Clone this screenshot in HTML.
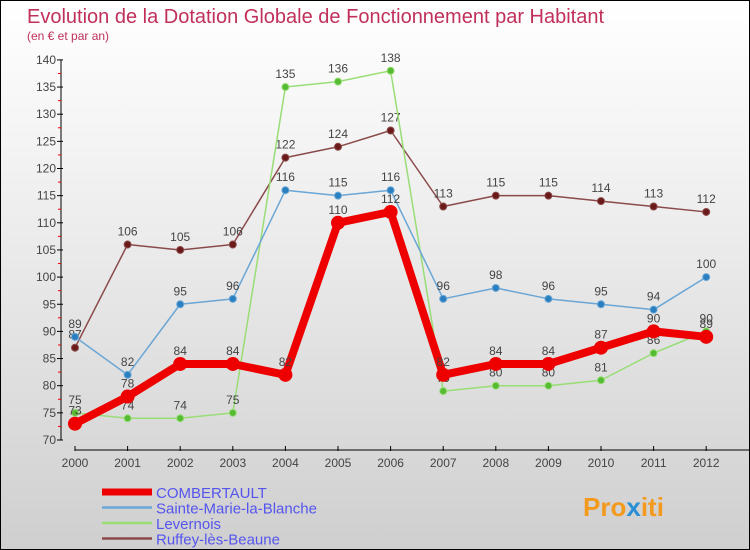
<!DOCTYPE html>
<html><head><meta charset="utf-8"><style>
body{margin:0}
#c{width:748px;height:548px;border:1px solid #000;background:linear-gradient(#fff,#f2f2f2 30%,#cfcfcf);position:relative;font-family:"Liberation Sans",sans-serif;overflow:hidden}
</style></head><body>
<div id="c">
<svg id="s" width="748" height="548" xmlns="http://www.w3.org/2000/svg">
<text x="26" y="22" font-size="20" fill="#c0305a">Evolution de la Dotation Globale de Fonctionnement par Habitant</text>
<text x="26" y="39" font-size="12" fill="#c0305a">(en € et par an)</text>
<text x="582" y="515" font-size="26" font-weight="bold" fill="#f39a1e">Pro<tspan fill="#2a8fd4">x</tspan>iti</text>
</svg></div>
<script>
const years=[2000,2001,2002,2003,2004,2005,2006,2007,2008,2009,2010,2011,2012];
const yTicks=[70,75,80,85,90,95,100,105,110,115,120,125,130,135,140];
const seriesNames=["COMBERTAULT","Sainte-Marie-la-Blanche","Levernois","Ruffey-lès-Beaune"];
const combertault=[73,78,84,84,82,110,112,82,84,84,87,90,89];
const sainteMarie=[89,82,95,96,116,115,116,96,98,96,95,94,100];
const levernois=[75,74,74,75,135,136,138,79,80,80,81,86,90];
const ruffey=[87,106,105,106,122,124,127,113,115,115,114,113,112];
const NS="http://www.w3.org/2000/svg",s=document.getElementById('s');
const X=i=>74+i*52.6, Y=v=>439-(v-70)*5.43;
function mk(t,a,p){const e=document.createElementNS(NS,t);for(const k in a)e.setAttribute(k,a[k]);(p||s).appendChild(e);return e;}
let ax=mk('line',{x1:60,y1:Y(140),x2:60,y2:Y(70),stroke:'#000'});

let xx=mk('line',{x1:74,y1:449,x2:748,y2:449,stroke:'#000'});

yTicks.forEach(v=>{mk('line',{x1:56,y1:Y(v),x2:62,y2:Y(v),stroke:'#000'});
 if(v<140)mk('line',{x1:57,y1:Y(v+2.5),x2:60,y2:Y(v+2.5),stroke:'#e00'});
 const t=mk('text',{x:55,y:Y(v)+4,'font-size':12,fill:'#444','text-anchor':'end'});t.textContent=v;
 });
years.forEach((y,i)=>{mk('line',{x1:X(i),y1:445,x2:X(i),y2:450,stroke:'#000'});
 const t=mk('text',{x:X(i),y:466,'font-size':12,fill:'#444','text-anchor':'middle'});t.textContent=y;
 });
const styles=[{c:'#ee0000',w:8,r:7,d:'#cc0000'},{c:'#6aa6d6',w:1.5,r:3.5,d:'#2a7fc0'},{c:'#99dd77',w:1.5,r:3.5,d:'#55bb33'},{c:'#8a4a4a',w:1.5,r:3.5,d:'#6b1a1a'}];
const data=[combertault,sainteMarie,levernois,ruffey];
[3,2,1,0].forEach(k=>{const d=data[k],st=styles[k];
 const g=mk('g',{});
 mk('polyline',{points:d.map((v,i)=>X(i)+','+Y(v)).join(' '),fill:'none',stroke:st.c,'stroke-width':st.w,'stroke-linejoin':'round'},g);
 d.forEach((v,i)=>{const c=mk('circle',{cx:X(i),cy:Y(v),r:st.r,fill:k==0?st.c:st.d,stroke:k==0?'none':st.c,'stroke-width':1},g);
  
  const t=mk('text',{x:X(i),y:Y(v)-9,'font-size':12,fill:'#444','text-anchor':'middle'},g);t.textContent=v;});
});
seriesNames.forEach((n,k)=>{const y=491+k*15.5;const st=styles[k];
 const g=mk('g',{});
 mk('line',{x1:101,y1:y,x2:151,y2:y,stroke:st.c,'stroke-width':k==0?7:2.5},g);
 const t=mk('text',{x:155,y:y+6,'font-size':15,fill:'#5555ee'},g);t.textContent=n;});
</script>
</body></html>
